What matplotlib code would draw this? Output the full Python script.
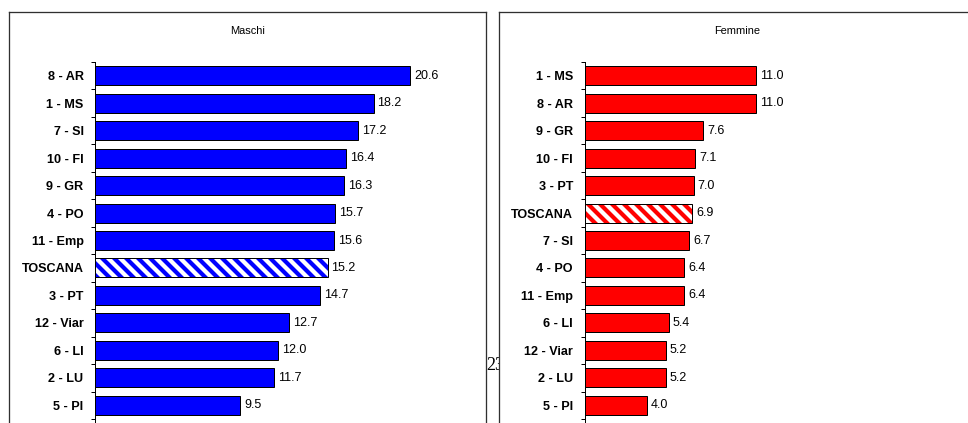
import matplotlib
matplotlib.use("Agg")
import matplotlib.pyplot as plt
import numpy as np

# Tassi per distretto, maschi e femmine (ordinati per valore)
maschi_labels = ["8 - AR", "1 - MS", "7 - SI", "10 - FI", "9 - GR", "4 - PO", "11 - Emp",
                 "TOSCANA", "3 - PT", "12 - Viar", "6 - LI", "2 - LU", "5 - PI"]
maschi_values = [20.6, 18.2, 17.2, 16.4, 16.3, 15.7, 15.6, 15.2, 14.7, 12.7, 12.0, 11.7, 9.5]

femmine_labels = ["1 - MS", "8 - AR", "9 - GR", "10 - FI", "3 - PT", "TOSCANA", "7 - SI",
                  "4 - PO", "11 - Emp", "6 - LI", "12 - Viar", "2 - LU", "5 - PI"]
femmine_values = [11.0, 11.0, 7.6, 7.1, 7.0, 6.9, 6.7, 6.4, 6.4, 5.4, 5.2, 5.2, 4.0]

W, H = 968, 423
DPI = 72

plt.rcParams["font.family"] = ["Liberation Sans", "DejaVu Sans"]
plt.rcParams["hatch.linewidth"] = 4.2


def rect_px(x0, y0, x1, y1):
    # pixel box (top-left origin) -> figure fraction rect
    return [x0 / W, 1 - y1 / H, (x1 - x0) / W, (y1 - y0) / H]


def draw_box(fig, x0, x1):
    ax = fig.add_axes(rect_px(x0, 12, x1, 450), zorder=0)
    ax.set_facecolor("white")
    ax.set_xticks([])
    ax.set_yticks([])
    for sp in ax.spines.values():
        sp.set_color("#303030")
        sp.set_linewidth(1.3)
    return ax


def draw_panel(fig, x0, xmax, px_per_unit, labels, values, color, title, title_x, pad):
    n = len(labels)
    step = (419 - 62) / n
    extra = 0.6
    top = 62
    bottom = 419 + extra * step
    x1 = x0 + xmax * px_per_unit
    ax = fig.add_axes(rect_px(x0, top, x1, bottom), zorder=1)
    ax.set_facecolor("none")
    ax.set_xlim(0, xmax)
    ax.set_ylim(n - 0.5 + extra, -0.5)

    y = np.arange(n)
    for yi, lab, val in zip(y, labels, values):
        if lab == "TOSCANA":
            ax.barh(yi, val, height=0.69, color="white", edgecolor=color,
                    hatch="\\\\", linewidth=0, zorder=2)
            ax.barh(yi, val, height=0.69, color="none", edgecolor="black",
                    linewidth=1, zorder=3)
        else:
            ax.barh(yi, val, height=0.69, color=color, edgecolor="black",
                    linewidth=1, zorder=2)
        ax.annotate(f"{val:.1f}", (val, yi), xytext=(4, 0), textcoords="offset points",
                    ha="left", va="center", fontsize=12.5, color="black")

    ax.set_yticks(y)
    ax.set_yticklabels(labels, fontsize=12.6, fontweight="bold")
    ax.tick_params(axis="y", which="major", length=0, pad=pad)
    ax.set_yticks(np.arange(n + 1) - 0.5, minor=True)
    ax.tick_params(axis="y", which="minor", length=4, width=1, direction="out", color="black")
    ax.set_xticks([])
    for side in ["top", "right", "bottom"]:
        ax.spines[side].set_visible(False)
    ax.spines["left"].set_color("black")
    ax.spines["left"].set_linewidth(1)

    fig.text(title_x / W, 1 - 31 / H, title, ha="center", va="center", fontsize=11)
    return ax


fig = plt.figure(figsize=(W / DPI, H / DPI), dpi=DPI)
fig.patch.set_facecolor("white")

# numero di pagina dietro i riquadri
fig.text(486.5 / W, 1 - 370 / H, "23", fontsize=18, family=["Liberation Serif"],
         ha="left", va="baseline", zorder=-1)

draw_box(fig, 9, 486)
draw_box(fig, 499, 976)

draw_panel(fig, 94.5, 25, 15.33, maschi_labels, maschi_values, "#0000ff", "Maschi", 247.5, 11)
draw_panel(fig, 585, 24, 15.52, femmine_labels, femmine_values, "#ff0000", "Femmine", 737, 12)

fig.savefig("out.png", dpi=DPI)
